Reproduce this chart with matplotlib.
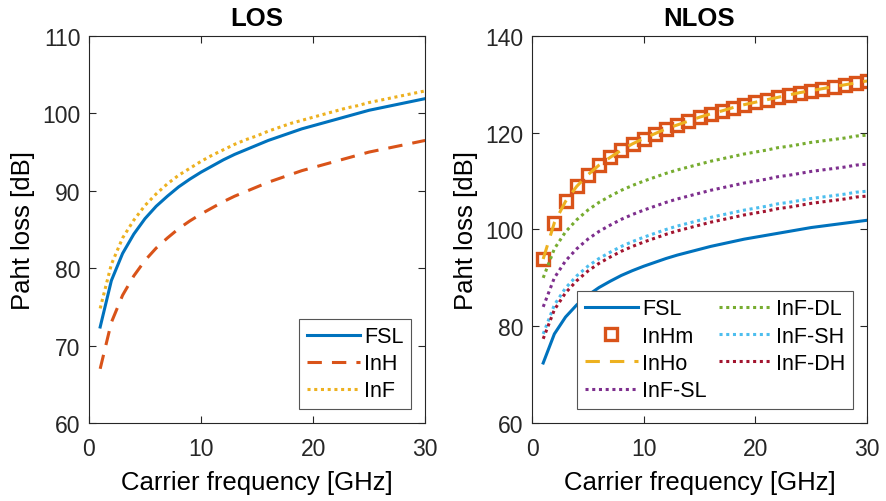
import matplotlib
matplotlib.use('Agg')
import matplotlib.pyplot as plt

# path loss vs carrier frequency, LOS and NLOS indoor models
freq = list(range(1, 31))

fsl = [72.4, 78.4, 81.9, 84.4, 86.4, 88.0, 89.3, 90.5, 91.5, 92.4, 93.2, 94.0, 94.7, 95.3, 95.9,
       96.5, 97.0, 97.5, 98.0, 98.4, 98.8, 99.2, 99.6, 100.0, 100.4, 100.7, 101.0, 101.3, 101.6, 101.9]
inh_los = [67.0, 73.0, 76.5, 79.0, 81.0, 82.6, 83.9, 85.1, 86.1, 87.0, 87.8, 88.6, 89.3, 89.9, 90.5,
           91.1, 91.6, 92.1, 92.6, 93.0, 93.4, 93.8, 94.2, 94.6, 95.0, 95.3, 95.6, 95.9, 96.2, 96.5]
inf_los = [74.8, 80.5, 83.9, 86.2, 88.1, 89.6, 90.9, 92.0, 92.9, 93.8, 94.6, 95.3, 96.0, 96.6, 97.1,
           97.7, 98.2, 98.7, 99.1, 99.5, 99.9, 100.3, 100.7, 101.0, 101.4, 101.7, 102.0, 102.3, 102.6, 102.9]

inhm = [93.9, 101.4, 105.8, 108.9, 111.3, 113.3, 114.9, 116.4, 117.7, 118.8, 119.8, 120.8, 121.6, 122.4, 123.2,
        123.9, 124.5, 125.2, 125.8, 126.3, 126.8, 127.3, 127.8, 128.3, 128.7, 129.1, 129.5, 129.9, 130.3, 130.7]
inho = [93.9, 101.4, 105.8, 108.9, 111.3, 113.3, 114.9, 116.4, 117.7, 118.8, 119.8, 120.8, 121.6, 122.4, 123.2,
        123.9, 124.5, 125.2, 125.8, 126.3, 126.8, 127.3, 127.8, 128.3, 128.7, 129.1, 129.5, 129.9, 130.3, 130.7]
inf_sl = [84.0, 90.0, 93.5, 96.0, 98.0, 99.6, 100.9, 102.1, 103.1, 104.0, 104.8, 105.6, 106.3, 106.9, 107.5,
          108.1, 108.6, 109.1, 109.6, 110.0, 110.4, 110.9, 111.2, 111.6, 112.0, 112.3, 112.6, 112.9, 113.3, 113.5]
inf_dl = [90.0, 96.0, 99.5, 102.0, 104.0, 105.6, 106.9, 108.1, 109.1, 110.0, 110.8, 111.6, 112.3, 112.9, 113.5,
          114.1, 114.6, 115.1, 115.6, 116.0, 116.4, 116.9, 117.2, 117.6, 118.0, 118.3, 118.6, 118.9, 119.3, 119.5]
inf_sh = [78.4, 84.4, 87.9, 90.4, 92.4, 94.0, 95.3, 96.5, 97.5, 98.4, 99.2, 100.0, 100.7, 101.3, 101.9,
          102.5, 103.0, 103.5, 104.0, 104.4, 104.8, 105.3, 105.6, 106.0, 106.4, 106.7, 107.0, 107.3, 107.7, 107.9]
inf_dh = [77.4, 83.4, 86.9, 89.4, 91.4, 93.0, 94.3, 95.5, 96.5, 97.4, 98.2, 99.0, 99.7, 100.3, 100.9,
          101.5, 102.0, 102.5, 103.0, 103.4, 103.8, 104.3, 104.6, 105.0, 105.4, 105.7, 106.0, 106.3, 106.7, 106.9]

plt.rcParams['font.family'] = ['Liberation Sans', 'DejaVu Sans']
tfs = 16.5  # tick labels
lfs = 18.5  # axis labels / titles
gfs = 15.5  # legend
lw = 2.2
dsh = (4.7, 3.3)
dot = (1, 1.2)

fig = plt.figure(figsize=(8.87, 5.02), dpi=100)
ax1 = fig.add_axes([0.1003, 0.1554, 0.379, 0.771])
ax2 = fig.add_axes([0.5998, 0.1554, 0.3777, 0.771])

ax1.plot(freq, fsl, '-', color='#0072BD', lw=lw, label='FSL')
ax1.plot(freq, inh_los, '--', color='#D95319', lw=lw, dashes=dsh, label='InH')
ax1.plot(freq, inf_los, ':', color='#EDB120', lw=lw, dashes=dot, label='InF')
ax1.set_ylim(60, 110)
ax1.set_yticks([60, 70, 80, 90, 100, 110])
ax1.set_title('LOS', fontsize=lfs, fontweight='bold', pad=8)

ax2.plot(freq, fsl, '-', color='#0072BD', lw=lw, label='FSL')
ax2.plot(freq, inhm, 's', color='#D95319', mfc='none', ms=9, mew=2.4, label='InHm')
ax2.plot(freq, inho, '--', color='#EDB120', lw=lw, dashes=dsh, label='InHo')
ax2.plot(freq, inf_sl, ':', color='#7E2F8E', lw=lw, dashes=dot, label='InF-SL')
ax2.plot(freq, inf_dl, ':', color='#77AC30', lw=lw, dashes=dot, label='InF-DL')
ax2.plot(freq, inf_sh, ':', color='#4DBEEE', lw=lw, dashes=dot, label='InF-SH')
ax2.plot(freq, inf_dh, ':', color='#A2142F', lw=lw, dashes=dot, label='InF-DH')
ax2.set_ylim(60, 140)
ax2.set_yticks([60, 80, 100, 120, 140])
ax2.set_title('NLOS', fontsize=lfs, fontweight='bold', pad=8)

for ax in (ax1, ax2):
    ax.set_xlim(0, 30)
    ax.set_xticks([0, 10, 20, 30])
    ax.set_xlabel('Carrier frequency [GHz]', fontsize=lfs)
    ax.set_ylabel('Paht loss [dB]', fontsize=lfs)
    ax.xaxis.set_label_coords(0.5, -0.122)
    ax.yaxis.set_label_coords(-0.162, 0.5)
    ax.tick_params(direction='in', top=True, right=True, labelsize=tfs, colors='#262626', length=5, width=0.8)
    ax.tick_params(axis='x', pad=10)
    ax.tick_params(axis='y', pad=6)
    for s in ax.spines.values():
        s.set_color('#262626')
        s.set_linewidth(0.8)

lg1 = ax1.legend(loc='lower right', fontsize=gfs, fancybox=False, framealpha=1, edgecolor='#555555',
                 handlelength=2.47, handletextpad=0.2, borderpad=0.35, labelspacing=0.28, borderaxespad=0.65)
lg1.get_frame().set_linewidth(0.8)

lg2 = ax2.legend(loc='lower right', ncol=2, fontsize=gfs, fancybox=False, framealpha=1, edgecolor='#555555',
                 handlelength=2.47, handletextpad=0.2, borderpad=0.35, labelspacing=0.3, columnspacing=0.55,
                 borderaxespad=0.65)
lg2.get_frame().set_linewidth(0.8)

plt.savefig('out.png', dpi=100)
